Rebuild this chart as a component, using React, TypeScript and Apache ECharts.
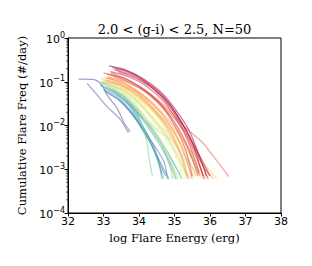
import React, { useEffect, useRef } from "react";
import * as echarts from "echarts";

const titleText = "2.0 < (g-i) < 2.5, N=50";
const xAxisLabel = "log Flare Energy (erg)";
const yAxisLabel = "Cumulative Flare Freq (#/day)";
const xTicks = [32, 33, 34, 35, 36, 37, 38];
const yDecades = [1e-4, 1e-3, 1e-2, 1e-1, 1];

// Each flare frequency distribution: [log energy, cumulative freq (#/day)], ordered red -> purple
const ffdLines: [number, number][][] = [
  [[33.15, 0.23], [33.6, 0.19], [34.1, 0.12], [34.6, 0.06], [35.0, 0.025], [35.4, 0.008], [35.7, 0.002], [35.9, 0.0007]],
  [[33.25, 0.21], [33.7, 0.17], [34.2, 0.1], [34.7, 0.045], [35.1, 0.016], [35.5, 0.004], [35.8, 0.0007]],
  [[33.3, 0.19], [33.8, 0.14], [34.3, 0.08], [34.8, 0.035], [35.2, 0.012], [35.6, 0.003], [36.0, 0.0007]],
  [[33.2, 0.17], [33.7, 0.13], [34.2, 0.08], [34.7, 0.035], [35.1, 0.012], [35.4, 0.004], [35.7, 0.0008]],
  [[33.35, 0.2], [33.9, 0.14], [34.4, 0.07], [34.9, 0.025], [35.3, 0.007], [35.6, 0.002], [35.85, 0.0006]],
  [[33.1, 0.15], [33.6, 0.12], [34.1, 0.07], [34.6, 0.03], [35.0, 0.01], [35.3, 0.003], [35.5, 0.0007]],
  [[33.4, 0.17], [33.9, 0.12], [34.5, 0.06], [35.0, 0.02], [35.4, 0.006], [35.75, 0.0015], [35.95, 0.0006]],
  [[33.2, 0.16], [33.7, 0.11], [34.3, 0.055], [34.8, 0.02], [35.2, 0.006], [35.5, 0.0017], [35.7, 0.0007]],
  [[33.1, 0.13], [33.6, 0.1], [34.2, 0.06], [34.8, 0.025], [35.3, 0.009], [35.76, 0.0043], [36.0, 0.0025], [36.53, 0.00068]],
  [[33.0, 0.16], [33.5, 0.12], [34.0, 0.075], [34.5, 0.035], [35.0, 0.012], [35.4, 0.003], [35.65, 0.0007]],
  [[33.1, 0.12], [33.6, 0.09], [34.1, 0.05], [34.6, 0.02], [35.0, 0.007], [35.3, 0.002], [35.5, 0.0006]],
  [[33.2, 0.14], [33.7, 0.1], [34.3, 0.05], [34.9, 0.018], [35.4, 0.005], [35.8, 0.0012], [36.0, 0.0007]],
  [[33.05, 0.11], [33.5, 0.085], [34.0, 0.05], [34.5, 0.02], [34.9, 0.007], [35.2, 0.002], [35.4, 0.0006]],
  [[33.3, 0.13], [33.8, 0.09], [34.4, 0.045], [35.0, 0.015], [35.5, 0.004], [35.8, 0.0012], [36.1, 0.0006]],
  [[33.0, 0.1], [33.5, 0.08], [34.0, 0.045], [34.5, 0.018], [34.9, 0.006], [35.2, 0.0018], [35.35, 0.0006]],
  [[33.15, 0.12], [33.6, 0.09], [34.2, 0.045], [34.8, 0.015], [35.3, 0.004], [35.6, 0.0012], [35.8, 0.0006]],
  [[33.0, 0.13], [33.4, 0.1], [33.9, 0.06], [34.4, 0.025], [34.9, 0.008], [35.3, 0.0025], [35.6, 0.0007]],
  [[33.2, 0.1], [33.7, 0.075], [34.2, 0.04], [34.8, 0.014], [35.3, 0.004], [35.7, 0.0011], [35.95, 0.0006]],
  [[33.0, 0.12], [33.5, 0.085], [34.0, 0.045], [34.6, 0.017], [35.1, 0.006], [35.6, 0.002], [36.0, 0.0009], [36.2, 0.0006]],
  [[33.1, 0.1], [33.6, 0.07], [34.1, 0.035], [34.7, 0.012], [35.2, 0.004], [35.6, 0.0013], [35.85, 0.0006]],
  [[32.95, 0.11], [33.4, 0.08], [33.9, 0.04], [34.4, 0.015], [34.9, 0.005], [35.3, 0.0015], [35.5, 0.0007]],
  [[33.2, 0.09], [33.7, 0.06], [34.2, 0.03], [34.8, 0.011], [35.4, 0.004], [35.9, 0.0012], [36.15, 0.0006]],
  [[33.0, 0.09], [33.5, 0.06], [34.0, 0.03], [34.5, 0.011], [35.0, 0.004], [35.4, 0.0013], [35.7, 0.0006]],
  [[33.1, 0.13], [33.5, 0.1], [34.0, 0.055], [34.5, 0.022], [34.9, 0.008], [35.2, 0.0025], [35.4, 0.0007]],
  [[33.0, 0.08], [33.5, 0.055], [34.0, 0.025], [34.5, 0.009], [34.9, 0.003], [35.2, 0.001], [35.35, 0.0006]],
  [[33.15, 0.11], [33.6, 0.075], [34.1, 0.035], [34.6, 0.013], [35.1, 0.0045], [35.5, 0.0014], [35.75, 0.0006]],
  [[33.05, 0.085], [33.5, 0.06], [34.0, 0.03], [34.5, 0.01], [34.9, 0.0035], [35.2, 0.0012], [35.3, 0.0006]],
  [[33.1, 0.095], [33.6, 0.065], [34.2, 0.028], [34.7, 0.01], [35.1, 0.0035], [35.4, 0.0012], [35.6, 0.0006]],
  [[33.0, 0.16], [33.4, 0.12], [33.9, 0.06], [34.4, 0.022], [34.8, 0.007], [35.1, 0.002], [35.25, 0.0006]],
  [[32.95, 0.13], [33.4, 0.09], [33.9, 0.045], [34.4, 0.015], [34.8, 0.005], [35.1, 0.0015], [35.2, 0.0006]],
  [[33.05, 0.11], [33.5, 0.075], [34.0, 0.035], [34.5, 0.012], [35.0, 0.005], [35.5, 0.002], [35.8, 0.001]],
  [[33.0, 0.1], [33.4, 0.07], [33.9, 0.03], [34.3, 0.011], [34.7, 0.0035], [34.95, 0.0012], [35.05, 0.0006]],
  [[32.9, 0.12], [33.3, 0.085], [33.8, 0.04], [34.2, 0.014], [34.6, 0.0045], [34.9, 0.0014], [35.0, 0.0006]],
  [[33.1, 0.09], [33.6, 0.06], [34.1, 0.025], [34.6, 0.008], [35.0, 0.0025], [35.3, 0.0009], [35.45, 0.0006]],
  [[32.95, 0.09], [33.4, 0.06], [33.9, 0.025], [34.3, 0.009], [34.7, 0.003], [35.0, 0.001], [35.1, 0.0006]],
  [[33.0, 0.075], [33.5, 0.05], [34.0, 0.022], [34.5, 0.008], [35.0, 0.004], [35.4, 0.0015], [35.6, 0.0008]],
  [[33.2, 0.085], [33.7, 0.055], [34.2, 0.022], [34.7, 0.007], [35.1, 0.002], [35.35, 0.0007]],
  [[32.95, 0.1], [33.3, 0.075], [33.8, 0.035], [34.2, 0.012], [34.6, 0.004], [34.85, 0.0013], [34.95, 0.0006]],
  [[32.9, 0.1], [33.3, 0.075], [33.7, 0.04], [34.0, 0.015], [34.2, 0.005], [34.3, 0.0015], [34.38, 0.0007]],
  [[33.0, 0.09], [33.4, 0.06], [33.8, 0.03], [34.1, 0.01], [34.4, 0.003], [34.6, 0.0011], [34.7, 0.0006]],
  [[32.95, 0.095], [33.3, 0.065], [33.8, 0.03], [34.2, 0.012], [34.6, 0.004], [34.9, 0.0013], [35.05, 0.0006]],
  [[33.05, 0.08], [33.5, 0.05], [33.9, 0.022], [34.3, 0.008], [34.7, 0.0025], [34.95, 0.0009], [35.05, 0.0006]],
  [[32.9, 0.085], [33.3, 0.06], [33.7, 0.03], [34.0, 0.012], [34.3, 0.0045], [34.5, 0.0018], [34.65, 0.0008]],
  [[33.0, 0.07], [33.4, 0.045], [33.8, 0.02], [34.1, 0.008], [34.4, 0.003], [34.7, 0.001], [34.85, 0.0006]],
  [[33.1, 0.075], [33.5, 0.05], [33.9, 0.022], [34.4, 0.008], [34.8, 0.0025], [35.1, 0.0009], [35.2, 0.0006]],
  [[32.95, 0.08], [33.4, 0.05], [33.8, 0.025], [34.1, 0.01], [34.4, 0.0035], [34.6, 0.0013], [34.75, 0.0007]],
  [[33.0, 0.065], [33.4, 0.04], [33.8, 0.018], [34.2, 0.006], [34.5, 0.002], [34.65, 0.0006]],
  [[33.05, 0.06], [33.5, 0.035], [33.9, 0.015], [34.3, 0.005], [34.7, 0.0015], [34.8, 0.0006]],
  [[32.54, 0.092], [32.82, 0.05], [33.1, 0.027], [33.48, 0.0135], [33.7, 0.0068]],
  [[32.3, 0.115], [32.7, 0.113], [32.95, 0.085], [33.1, 0.05], [33.38, 0.025], [33.57, 0.012], [33.75, 0.0072]],
];

const spectral = [
  "#9e0142", "#d53e4f", "#f46d43", "#fdae61", "#fee08b", "#ffffbf",
  "#e6f598", "#abdda4", "#66c2a5", "#3288bd", "#5e4fa2",
];

function hexToRgb(h: string): number[] {
  return [1, 3, 5].map((i) => parseInt(h.slice(i, i + 2), 16));
}

function spectralColor(t: number): string {
  const pos = t * (spectral.length - 1);
  const i = Math.min(Math.floor(pos), spectral.length - 2);
  const f = pos - i;
  const a = hexToRgb(spectral[i]);
  const b = hexToRgb(spectral[i + 1]);
  const c = a.map((v, k) => Math.round(v + (b[k] - v) * f));
  return `rgb(${c[0]},${c[1]},${c[2]})`;
}

const minorTickVals: number[] = [];
for (let d = -4; d < 0; d++) {
  for (let m = 2; m <= 9; m++) minorTickVals.push(m * Math.pow(10, d));
}

const SUP_MINUS = "\u2212";

export default function App() {
  const ref = useRef<HTMLDivElement>(null);
  useEffect(() => {
    if (!ref.current) return;
    const chart = echarts.init(ref.current, undefined, { renderer: "svg" });
    const n = ffdLines.length;
    const lineSeries = ffdLines
      .map((pts, i) => ({
        type: "line",
        data: pts,
        showSymbol: false,
        symbol: "none",
        smooth: 0.3,
        lineStyle: { width: 1.2, color: spectralColor(i / (n - 1)), opacity: 0.55 },
        silent: true,
      }))
      .reverse();

    chart.setOption({
      animation: false,
      backgroundColor: "#ffffff",
      grid: {
        left: 68,
        right: 31,
        top: 38,
        bottom: 53,
        show: true,
        borderColor: "#000",
        borderWidth: 1,
        backgroundColor: "transparent",
      },
      graphic: [
        {
          type: "text",
          x: 174.5,
          y: 29,
          style: {
            text: titleText,
            fontFamily: "DejaVu Serif",
            fontSize: 13,
            fill: "#000",
            textAlign: "center",
            textVerticalAlign: "middle",
          },
        },
      ],
      xAxis: {
        type: "value",
        min: 32,
        max: 38,
        interval: 1,
        name: xAxisLabel,
        nameLocation: "middle",
        nameGap: 16,
        nameTextStyle: { fontFamily: "DejaVu Serif", fontSize: 11.5, color: "#000" },
        axisLine: { show: true, onZero: false, lineStyle: { color: "#000", width: 1 } },
        axisTick: { show: true, inside: false, length: 3.5, lineStyle: { color: "#000" } },
        axisLabel: {
          color: "#000",
          fontFamily: "DejaVu Sans",
          fontSize: 11,
          margin: 3,
          formatter: (v: number) => (xTicks.includes(v) ? String(v) : ""),
        },
        splitLine: { show: false },
      },
      yAxis: {
        type: "log",
        logBase: 10,
        min: yDecades[0],
        max: yDecades[yDecades.length - 1],
        name: yAxisLabel,
        nameLocation: "middle",
        nameGap: 35,
        nameRotate: 90,
        nameTextStyle: { fontFamily: "DejaVu Serif", fontSize: 11.5, color: "#000" },
        axisLine: { show: true, onZero: false, lineStyle: { color: "#000", width: 1 } },
        axisTick: { show: true, inside: false, length: 3.5, lineStyle: { color: "#000" } },
        axisLabel: {
          color: "#000",
          fontFamily: "DejaVu Sans",
          fontSize: 11,
          margin: 3,
          formatter: (v: number) => {
            const e = Math.round(Math.log10(v));
            const s = e < 0 ? SUP_MINUS + String(-e) : String(e);
            return "{b|10}{s|" + s + "}";
          },
          rich: {
            b: { fontFamily: "DejaVu Sans", fontSize: 11, color: "#000", verticalAlign: "bottom", lineHeight: 14 },
            s: { fontFamily: "DejaVu Sans", fontSize: 8, color: "#000", verticalAlign: "top", lineHeight: 8 },
          },
        },
        splitLine: { show: false },
      },
      series: [
        ...lineSeries,
        {
          type: "custom",
          silent: true,
          clip: false,
          z: 10,
          data: minorTickVals.map((v) => [32, v]),
          renderItem: (_params: any, api: any) => {
            const p = api.coord([api.value(0), api.value(1)]);
            return {
              type: "line",
              shape: { x1: p[0] - 2, y1: p[1], x2: p[0], y2: p[1] },
              style: { stroke: "#000", lineWidth: 0.6 },
            };
          },
        },
      ],
    });
    return () => chart.dispose();
  }, []);

  return (
    <div
      ref={ref}
      style={{ position: "absolute", left: 0, top: 0, width: 312, height: 266 }}
    />
  );
}
